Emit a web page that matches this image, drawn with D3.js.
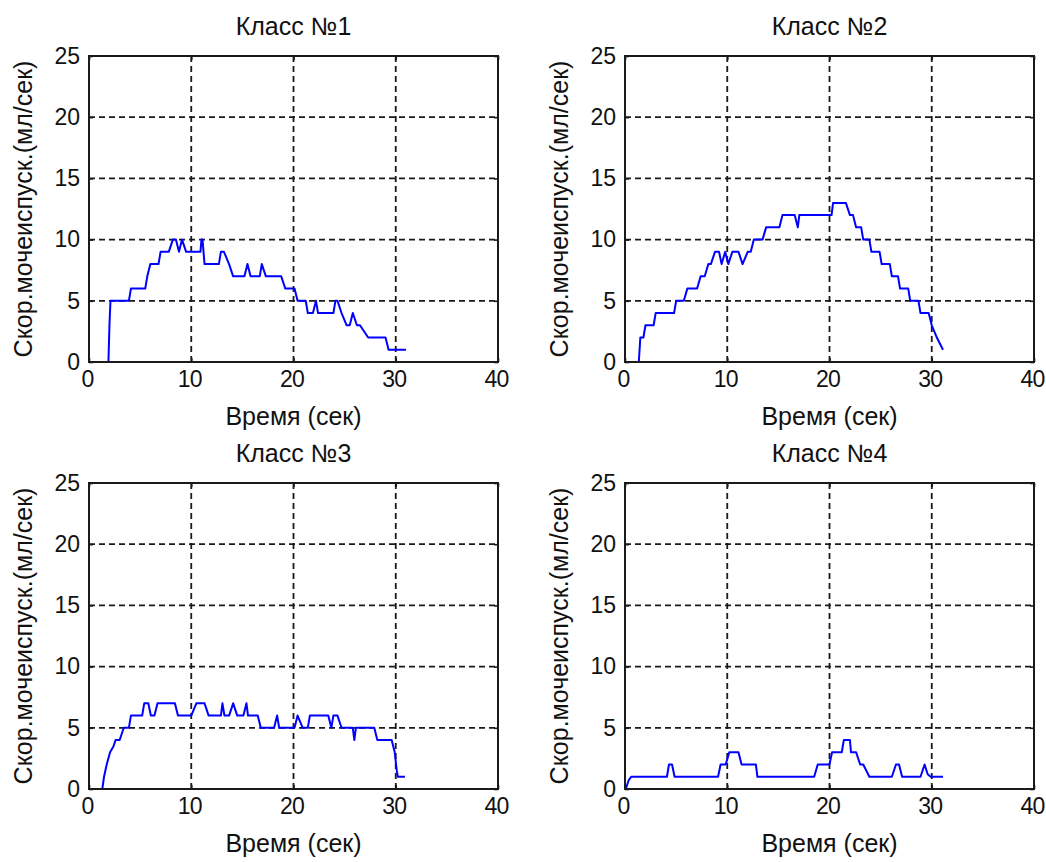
<!DOCTYPE html>
<meta charset="utf-8">
<script src="https://d3js.org/d3.v7.min.js"></script>
<style>
  body { margin: 0; background: #fff; }
  text { font-family: 'Liberation Sans', Arial, sans-serif; fill: #111; }
</style>
<body>
<div id="my_dataviz"></div>
<script>

// tick values shared by all four panels
var xTicks = [0, 10, 20, 30, 40];
var yTicks = [0, 5, 10, 15, 20, 25];

var titles = ["Класс №1", "Класс №2", "Класс №3", "Класс №4"];
var xLabel = "Время (сек)";
var yLabel = "Скор.мочеиспуск.(мл/сек)";

// Class 1 (time in sec, flow in ml/sec)
var class1T = [0, 1.9, 2.0, 2.1, 3.9, 4.1, 5.5, 5.7, 6.0, 6.8, 7.0, 7.8, 8.2, 8.5, 8.8, 9.1, 9.5, 10.9, 11.0, 11.1, 11.3, 12.7, 12.9, 13.2, 13.7, 14.1, 15.2, 15.5, 15.8, 16.7, 16.9, 17.3, 18.8, 19.2, 20.1, 20.4, 21.2, 21.4, 21.9, 22.2, 22.4, 23.9, 24.1, 24.3, 24.7, 25.2, 25.5, 25.8, 26.2, 26.5, 27.3, 29.0, 29.3, 31.0];
var class1V = [0, 0, 3, 5, 5, 6, 6, 7, 8, 8, 9, 9, 10, 10, 9, 10, 9, 9, 10, 10, 8, 8, 9, 9, 8, 7, 7, 8, 7, 7, 8, 7, 7, 6, 6, 5, 5, 4, 4, 5, 4, 4, 5, 5, 4, 3, 3, 4, 3, 3, 2, 2, 1, 1];

// Class 2
var class2T = [0, 1.35, 1.5, 1.8, 2.0, 2.8, 3.0, 4.8, 5.0, 5.75, 6.1, 7.05, 7.4, 7.8, 8.15, 8.4, 8.8, 9.2, 9.45, 9.8, 10.1, 10.5, 11.1, 11.5, 12.0, 12.3, 12.6, 13.45, 13.8, 15.1, 15.4, 16.6, 16.9, 17.05, 20.2, 20.35, 21.6, 22.0, 22.3, 22.6, 23.1, 23.3, 23.9, 24.1, 24.9, 25.1, 25.9, 26.1, 26.7, 26.9, 27.7, 27.9, 28.7, 28.9, 29.7, 30.0, 30.5, 31.1];
var class2V = [0, 0, 2, 2, 3, 3, 4, 4, 5, 5, 6, 6, 7, 7, 8, 8, 9, 9, 8, 9, 8, 9, 9, 8, 9, 9, 10, 10, 11, 11, 12, 12, 11, 12, 12, 13, 13, 12, 12, 11, 11, 10, 10, 9, 9, 8, 8, 7, 7, 6, 6, 5, 5, 4, 4, 3, 2, 1];

// Class 3
var class3T = [0, 1.3, 1.47, 1.73, 2.06, 2.4, 2.6, 3.0, 3.4, 3.9, 4.1, 5.2, 5.4, 5.8, 6.05, 6.4, 6.7, 8.4, 8.7, 10.0, 10.5, 11.3, 11.7, 12.9, 13.05, 13.25, 13.7, 14.1, 14.5, 15.1, 15.4, 15.55, 16.5, 16.8, 18.1, 18.4, 18.6, 20.1, 20.4, 20.9, 21.4, 21.6, 23.4, 23.7, 23.9, 24.3, 24.7, 25.8, 25.95, 26.1, 27.9, 28.2, 29.6, 29.9, 30.1, 30.2, 30.9];
var class3V = [0, 0, 1, 2, 3, 3.5, 4, 4, 5, 5, 6, 6, 7, 7, 6, 6, 7, 7, 6, 6, 7, 7, 6, 6, 7, 6, 6, 7, 6, 6, 7, 6, 6, 5, 5, 6, 5, 5, 6, 5, 5, 6, 6, 5, 6, 6, 5, 5, 4, 5, 5, 4, 4, 3, 1.5, 1, 1];

// Class 4
var class4T = [0.08, 0.35, 0.6, 4.1, 4.3, 4.6, 4.85, 9.1, 9.35, 9.85, 10.2, 11.1, 11.4, 12.8, 12.95, 18.5, 18.85, 20.0, 20.25, 21.2, 21.4, 22.0, 22.1, 22.6, 23.0, 23.3, 23.9, 26.1, 26.5, 26.8, 27.1, 28.9, 29.3, 29.6, 29.9, 31.1];
var class4V = [0, 0.7, 1, 1, 2, 2, 1, 1, 2, 2, 3, 3, 2, 2, 1, 1, 2, 2, 3, 3, 4, 4, 3, 3, 2, 2, 1, 1, 2, 2, 1, 1, 2, 1.2, 1, 1];

var series = [[class1T, class1V], [class2T, class2V], [class3T, class3V], [class4T, class4V]];

// panel placement in the 1046x862 page
var panelW = 409, panelH = 306;
var lefts = [89, 625, 89, 625];
var tops = [56, 56, 483, 483];

var svg = d3.select("#my_dataviz")
  .append("svg")
    .attr("width", 1046)
    .attr("height", 862);

var x = d3.scaleLinear().domain([0, 40]).range([0, panelW]);
var y = d3.scaleLinear().domain([0, 25]).range([panelH, 0]);

series.forEach(function(s, i) {
  var g = svg.append("g")
      .attr("transform", "translate(" + lefts[i] + "," + tops[i] + ")");

  // dashed grid at inner ticks
  g.append("g").selectAll("line")
    .data(xTicks.slice(1, -1))
    .enter().append("line")
      .attr("x1", function(d) { return x(d); })
      .attr("x2", function(d) { return x(d); })
      .attr("y1", 0).attr("y2", panelH)
      .attr("stroke", "#1a1a1a").attr("stroke-width", 1.8)
      .attr("stroke-dasharray", "6,4");
  g.append("g").selectAll("line")
    .data(yTicks.slice(1, -1))
    .enter().append("line")
      .attr("y1", function(d) { return y(d); })
      .attr("y2", function(d) { return y(d); })
      .attr("x1", 0).attr("x2", panelW)
      .attr("stroke", "#1a1a1a").attr("stroke-width", 1.8)
      .attr("stroke-dasharray", "6,4");

  // the flow curve
  var pts = s[0].map(function(t, k) { return [t, s[1][k]]; });
  var line = d3.line()
    .x(function(d) { return x(d[0]); })
    .y(function(d) { return y(d[1]); });
  g.append("path")
    .datum(pts)
    .attr("d", line)
    .attr("fill", "none")
    .attr("stroke", "#0000ff")
    .attr("stroke-width", 2)
    .attr("stroke-linejoin", "round");

  // axes with inward ticks
  g.append("g")
    .attr("class", "xaxis")
    .attr("transform", "translate(0," + panelH + ")")
    .call(d3.axisBottom(x).tickValues(xTicks).tickSize(-4).tickSizeOuter(0).tickPadding(9));
  g.append("g")
    .call(d3.axisLeft(y).tickValues(yTicks).tickSize(-4).tickSizeOuter(0).tickPadding(9));
  g.append("g")
    .call(d3.axisTop(x).tickValues(xTicks).tickSize(-4).tickSizeOuter(0).tickFormat(""));
  g.append("g")
    .attr("transform", "translate(" + panelW + ",0)")
    .call(d3.axisRight(y).tickValues(yTicks).tickSize(-4).tickSizeOuter(0).tickFormat(""));
  g.selectAll(".domain").remove();
  g.selectAll(".tick line").attr("stroke", "#1a1a1a").attr("stroke-width", 1.6);
  g.selectAll(".tick text")
    .style("font-family", "'Liberation Sans', Arial, sans-serif")
    .style("font-size", "23px")
    .attr("fill", "#111");
  g.selectAll(".xaxis .tick text").attr("dx", -2).attr("letter-spacing", "-0.8");

  // frame
  g.append("rect")
    .attr("width", panelW).attr("height", panelH)
    .attr("fill", "none")
    .attr("stroke", "#1a1a1a")
    .attr("stroke-width", 2);

  // title and labels
  g.append("text")
    .attr("x", panelW / 2).attr("y", -21)
    .attr("text-anchor", "middle")
    .style("font-size", "25px")
    .text(titles[i]);
  g.append("text")
    .attr("x", panelW / 2).attr("y", panelH + 63)
    .attr("text-anchor", "middle")
    .style("font-size", "25px")
    .text(xLabel);
  g.append("text")
    .attr("transform", "rotate(-90)")
    .attr("x", -panelH / 2).attr("y", -57)
    .attr("text-anchor", "middle")
    .style("font-size", "25px")
    .text(yLabel);
});

</script>
</body>
